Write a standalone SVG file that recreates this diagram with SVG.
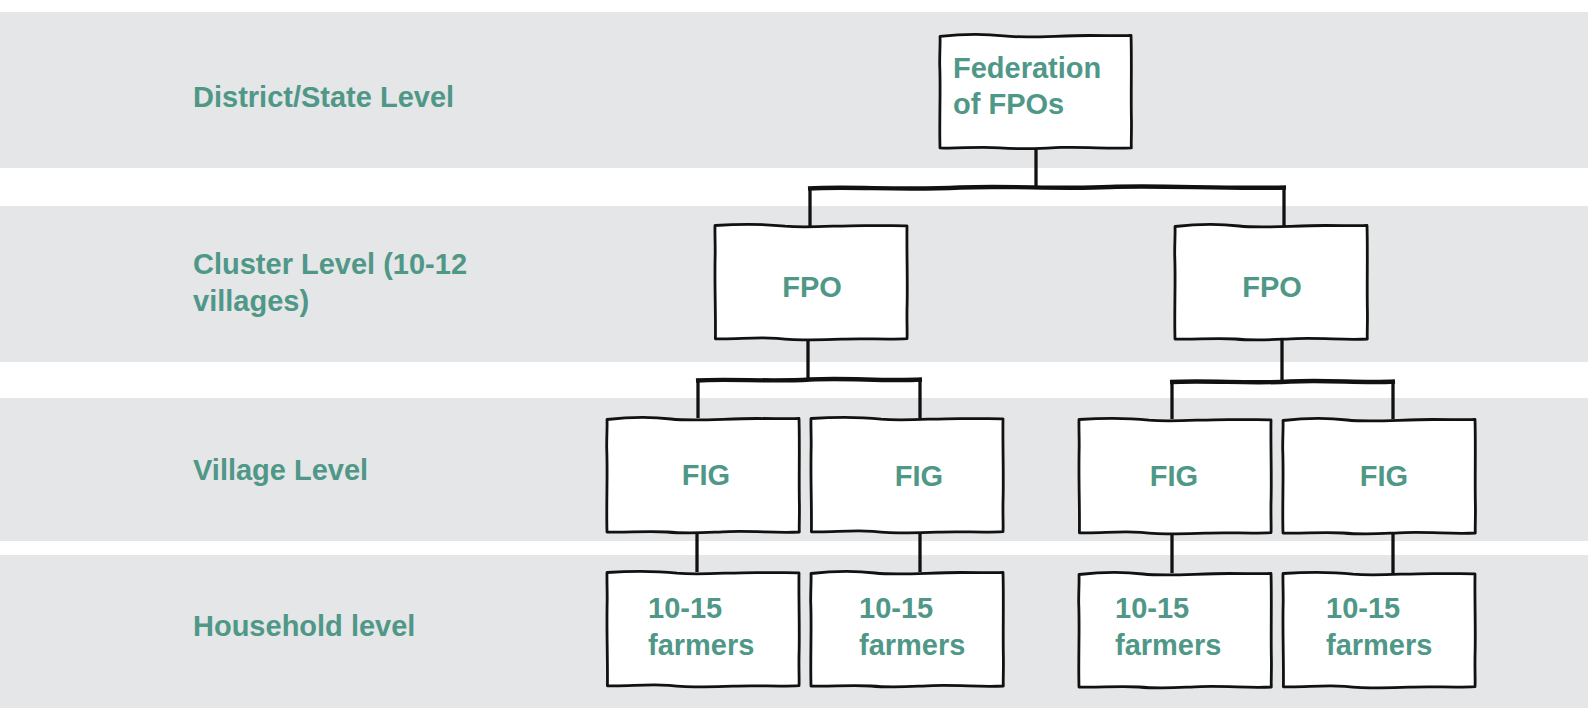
<svg xmlns="http://www.w3.org/2000/svg" xmlns:xlink="http://www.w3.org/1999/xlink" width="1588" height="708" viewBox="0 0 1588 708">
  <style>
    .band { fill: #e5e6e8; }
    .box { fill: #ffffff; stroke: #111111; stroke-width: 2.8; stroke-linejoin: round; }
    .wire { fill: none; stroke: #111111; stroke-width: 3.3; stroke-linejoin: round; }
    .bar { fill: none; stroke: #111111; stroke-width: 4.4; stroke-linejoin: round; }
    text { font-family: "Liberation Sans", Arial, sans-serif; font-weight: bold; font-size: 29px; fill: #4f9787; }
    .mid { text-anchor: middle; }
  </style>
  <defs>
    <!-- sketchy box outline, 192 x 114 -->
    <path id="sketch" d="M0,1.5 C18,-0.5 42,-1.5 64,1 C88,3.5 118,0.5 150,0.5 C168,0.5 184,1 192,0.5 C192.8,28 191.8,60 192.4,86 C192.6,100 192,108 192.3,114 C170,115.2 148,112.8 122,113.6 C96,114.6 82,116 60,114 C38,112.4 18,115 0,114 C-0.8,84 0.8,56 -0.3,30 C-0.4,18 0.4,8 0,1.5 Z"/>
    <path id="sketch2" d="M0,0.5 C22,-1 46,-1.5 70,1.2 C96,3.2 126,0 156,0.6 C172,0.8 186,0.2 192,1 C191.6,30 192.8,58 192,84 C191.8,100 192.4,108 192,113.6 C172,115 150,113 126,114.2 C100,115.4 84,115.6 62,113.4 C40,111.8 20,114.6 0.4,113.8 C0.8,86 -0.6,58 0.2,28 C0.2,16 -0.2,8 0,0.5 Z"/>
  </defs>

  <!-- level bands -->
  <g id="bands">
    <rect class="band" x="0" y="12" width="1588" height="156"/>
    <rect class="band" x="0" y="206" width="1588" height="156"/>
    <rect class="band" x="0" y="398" width="1588" height="143"/>
    <rect class="band" x="0" y="555" width="1588" height="153"/>
  </g>

  <!-- level labels -->
  <g id="labels">
    <text x="193" y="107">District/State Level</text>
    <text x="193" y="274">Cluster Level (10-12</text>
    <text x="193" y="311">villages)</text>
    <text x="193" y="480">Village Level</text>
    <text x="193" y="636">Household level</text>
  </g>

  <!-- connectors -->
  <g id="connectors">
    <path class="wire" d="M1036,148 L1036,187"/>
    <path class="wire" d="M810,226 L810,189"/>
    <path class="wire" d="M1284,226 L1284,188"/>
    <path class="bar" d="M808,188.5 C850,186 900,190.5 960,187.5 C1010,185.5 1060,189.5 1110,187 C1160,185 1220,189 1286,187.5"/>

    <path class="wire" d="M808,339 L808,379"/>
    <path class="wire" d="M698,418 L698,381"/>
    <path class="wire" d="M920,418 L920,380"/>
    <path class="bar" d="M696,380.5 C730,378.5 770,382 810,379.5 C850,377.5 880,381.5 922,379.5"/>

    <path class="wire" d="M1282,339 L1282,381"/>
    <path class="wire" d="M1172,419 L1172,383"/>
    <path class="wire" d="M1393,419 L1393,382"/>
    <path class="bar" d="M1170,382 C1210,380 1250,384 1290,381.5 C1330,379.5 1360,383.5 1395,381.5"/>

    <path class="wire" d="M697,531 L697,572"/>
    <path class="wire" d="M920,531 L920,572"/>
    <path class="wire" d="M1172,533 L1172,573"/>
    <path class="wire" d="M1393,533 L1393,573"/>
  </g>

  <!-- district / state -->
  <g id="federation">
    <use xlink:href="#sketch" href="#sketch" class="box" transform="translate(940,35) scale(0.995,0.99)"/>
    <text x="953" y="78">Federation</text>
    <text x="953" y="114">of FPOs</text>
  </g>

  <!-- cluster -->
  <g id="fpo-left">
    <use xlink:href="#sketch2" href="#sketch2" class="box" transform="translate(715,225)"/>
    <text class="mid" x="812" y="297">FPO</text>
  </g>
  <g id="fpo-right">
    <use xlink:href="#sketch" href="#sketch" class="box" transform="translate(1175,225)"/>
    <text class="mid" x="1272" y="297">FPO</text>
  </g>

  <!-- village -->
  <g id="fig-1">
    <use xlink:href="#sketch" href="#sketch" class="box" transform="translate(607,418)"/>
    <text class="mid" x="706" y="485">FIG</text>
  </g>
  <g id="fig-2">
    <use xlink:href="#sketch2" href="#sketch2" class="box" transform="translate(811,418)"/>
    <text class="mid" x="919" y="486">FIG</text>
  </g>
  <g id="fig-3">
    <use xlink:href="#sketch2" href="#sketch2" class="box" transform="translate(1079,419)"/>
    <text class="mid" x="1174" y="486">FIG</text>
  </g>
  <g id="fig-4">
    <use xlink:href="#sketch" href="#sketch" class="box" transform="translate(1283,419)"/>
    <text class="mid" x="1384" y="486">FIG</text>
  </g>

  <!-- household -->
  <g id="farmers-1">
    <use xlink:href="#sketch2" href="#sketch2" class="box" transform="translate(607,572)"/>
    <text x="648" y="618">10-15</text>
    <text x="648" y="655">farmers</text>
  </g>
  <g id="farmers-2">
    <use xlink:href="#sketch" href="#sketch" class="box" transform="translate(811,572)"/>
    <text x="859" y="618">10-15</text>
    <text x="859" y="655">farmers</text>
  </g>
  <g id="farmers-3">
    <use xlink:href="#sketch" href="#sketch" class="box" transform="translate(1079,573)"/>
    <text x="1115" y="618">10-15</text>
    <text x="1115" y="655">farmers</text>
  </g>
  <g id="farmers-4">
    <use xlink:href="#sketch2" href="#sketch2" class="box" transform="translate(1283,573)"/>
    <text x="1326" y="618">10-15</text>
    <text x="1326" y="655">farmers</text>
  </g>
</svg>
